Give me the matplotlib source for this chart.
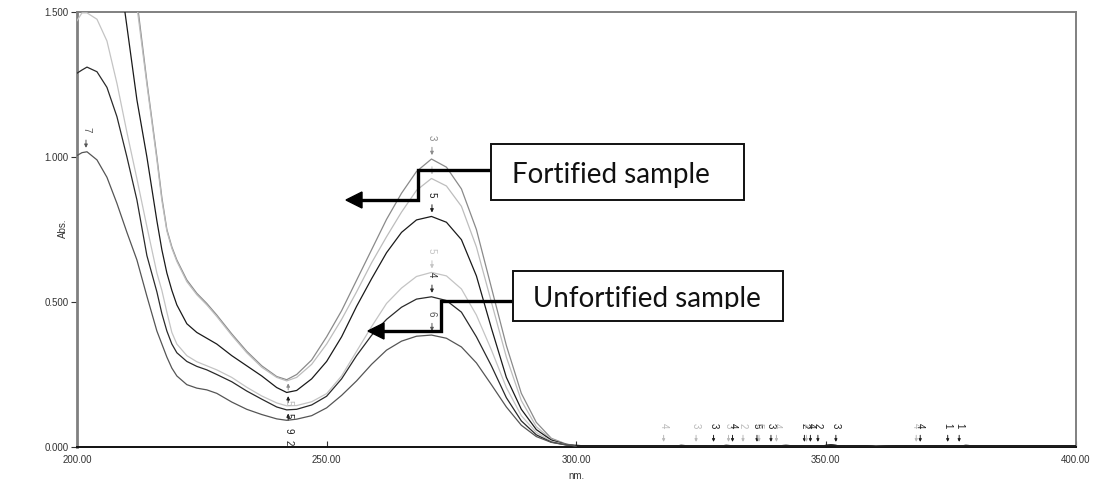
import numpy as np
import matplotlib.pyplot as plt
from matplotlib.patches import Rectangle, Polygon
from matplotlib.lines import Line2D

# wavelength grid of the recorded scans (nm)
nm = [200, 201, 202, 204, 206, 208, 210, 212, 214, 216, 217, 218, 219, 220,
      222, 224, 226, 228, 231, 234, 237, 240, 242, 244, 247, 250, 253, 256,
      259, 262, 265, 268, 271, 274, 277, 280, 283, 286, 289, 292, 295, 298, 300]

nan = np.nan
# absorbance of the six scans (values above 1.5 run off the plot)
scan_3 = [nan, nan, nan, nan, nan, nan, 1.85, 1.54, 1.26, 1.0,
          0.86, 0.75, 0.69, 0.645, 0.576, 0.53, 0.495, 0.455,
          0.39, 0.33, 0.28, 0.243, 0.232, 0.25, 0.30, 0.38,
          0.47, 0.575, 0.68, 0.785, 0.875, 0.95, 0.993, 0.965,
          0.89, 0.75, 0.55, 0.35, 0.185, 0.085, 0.03, 0.01, 0.005]
scan_4 = [nan, nan, nan, nan, nan, nan, 1.82, 1.52, 1.25, 0.99,
          0.85, 0.745, 0.685, 0.64, 0.57, 0.525, 0.49, 0.45,
          0.385, 0.325, 0.275, 0.24, 0.228, 0.24, 0.285, 0.355,
          0.44, 0.535, 0.635, 0.725, 0.81, 0.885, 0.926, 0.90,
          0.83, 0.69, 0.50, 0.31, 0.16, 0.07, 0.027, 0.009, 0.005]
scan_5 = [nan, nan, nan, nan, 1.95, 1.70, 1.45, 1.197, 1.0, 0.78,
          0.68, 0.60, 0.54, 0.49, 0.425, 0.395, 0.375, 0.355,
          0.315, 0.28, 0.245, 0.205, 0.188, 0.195, 0.235, 0.295,
          0.38, 0.485, 0.58, 0.67, 0.74, 0.783, 0.795, 0.775,
          0.715, 0.59, 0.41, 0.24, 0.13, 0.06, 0.024, 0.009, 0.005]
scan_2 = [1.47, 1.497, 1.497, 1.475, 1.40, 1.254, 1.085, 0.925, 0.76, 0.60,
          0.54, 0.465, 0.395, 0.355, 0.315, 0.294, 0.28, 0.266,
          0.24, 0.206, 0.176, 0.152, 0.142, 0.143, 0.156, 0.184,
          0.245, 0.33, 0.415, 0.495, 0.548, 0.588, 0.602, 0.59,
          0.545, 0.455, 0.335, 0.205, 0.108, 0.05, 0.02, 0.008, 0.004]
scan_1 = [1.289, 1.30, 1.31, 1.294, 1.24, 1.139, 1.0, 0.852, 0.66, 0.535,
          0.46, 0.40, 0.355, 0.325, 0.295, 0.278, 0.266, 0.25,
          0.225, 0.193, 0.165, 0.138, 0.128, 0.13, 0.145, 0.175,
          0.235, 0.315, 0.385, 0.44, 0.482, 0.51, 0.518, 0.505,
          0.465, 0.38, 0.28, 0.17, 0.09, 0.042, 0.017, 0.007, 0.004]
scan_0 = [1.005, 1.015, 1.018, 0.99, 0.93, 0.84, 0.74, 0.645, 0.52, 0.40,
          0.355, 0.31, 0.272, 0.245, 0.215, 0.203, 0.197, 0.185,
          0.155, 0.13, 0.112, 0.097, 0.092, 0.096, 0.108, 0.135,
          0.178, 0.228, 0.285, 0.334, 0.365, 0.382, 0.386, 0.375,
          0.345, 0.29, 0.215, 0.138, 0.075, 0.036, 0.016, 0.007, 0.004]

# flat baseline after 300 nm
tail_nm = [300, 303, 306, 309, 312, 315, 318, 321, 324, 327, 330, 333, 336,
           339, 342, 345, 348, 351, 354, 357, 360, 363, 366, 369, 372, 375,
           378, 381, 384, 387, 390, 393, 396, 400]
tail_abs = [0.005, 0.004, 0.003, 0.004, 0.003, 0.004, 0.003, 0.005, 0.004,
            0.003, 0.005, 0.004, 0.003, 0.004, 0.005, 0.004, 0.003, 0.006,
            0.003, 0.004, 0.002, 0.003, 0.004, 0.003, 0.004, 0.003, 0.005,
            0.004, 0.003, 0.004, 0.003, 0.004, 0.003, 0.004]

# peak-pick labels on the baseline
pick_nm = [317.5, 324.0, 327.5, 330.5, 331.3, 333.4, 336.2, 336.6, 339.0, 340.1,
           345.7, 346.1, 346.9, 348.4, 352.0, 368.1, 368.9, 374.4, 376.7]
pick_lbl = ['4', '3', '3', '3', '4', '2', '5', '5', '3', '4',
            '2', '2', '4', '2', '3', '4', '4', '1', '1']
pick_dark = [0, 0, 1, 0, 1, 0, 1, 0, 1, 0, 1, 0, 1, 1, 1, 0, 1, 1, 1]

LIGHT = '#b9b9b9'
DARK = '#1e1e1e'

scans = [
    (scan_3, '#8a8a8a', '3'),
    (scan_4, '#bdbdbd', ''),
    (scan_5, '#1a1a1a', '5'),
    (scan_2, '#c4c4c4', '5'),
    (scan_1, '#2a2a2a', '4'),
    (scan_0, '#555555', '6'),
]

W, H = 1094, 486
fig = plt.figure(figsize=(W / 100, H / 100), dpi=100)
ax = fig.add_axes([77 / W, 1 - 447 / H, 998.5 / W, 435 / H])


def fpos(x, y):
    return x / W, 1 - y / H


for vals, col, lbl in scans:
    ax.plot(nm, vals, color=col, lw=0.9, zorder=3)
    ax.plot(tail_nm, tail_abs, color=DARK, lw=0.9, zorder=3)

# peak markers at 271 nm
i_pk = nm.index(271)
pk_x = 271.1
for vals, col, lbl in scans:
    y = vals[i_pk]
    ax.annotate('', xy=(pk_x, y + 0.004), xytext=(pk_x, y + 0.05),
                arrowprops=dict(arrowstyle='-|>', color=col, lw=0.7,
                                mutation_scale=5), zorder=4)
    if lbl:
        ax.text(pk_x, y + 0.075, lbl, rotation=270, ha='center', va='center',
                fontsize=7, color=col, family='Liberation Sans', zorder=4)

# valley markers at 242 nm
i_mn = nm.index(242)
mn_x = 242.3
for vals, col, lbl in scans[::2]:
    y = vals[i_mn]
    ax.annotate('', xy=(mn_x, y - 0.003), xytext=(mn_x, y - 0.045),
                arrowprops=dict(arrowstyle='-|>', color=col, lw=0.7,
                                mutation_scale=5), zorder=4)
for y, lbl, col in [(0.153, '5', LIGHT), (0.108, '5', DARK),
                    (0.055, '9', DARK), (0.015, '2', DARK)]:
    ax.text(mn_x, y, lbl, rotation=270, ha='center', va='center',
            fontsize=7, color=col, family='Liberation Sans', zorder=4)

# maximum of the lowest scan near 202 nm
y7 = scan_0[nm.index(202)]
ax.annotate('', xy=(201.8, y7 + 0.004), xytext=(201.8, y7 + 0.05),
            arrowprops=dict(arrowstyle='-|>', color='#555555', lw=0.7,
                            mutation_scale=5), zorder=4)
ax.text(201.8, y7 + 0.075, '7', rotation=270, ha='center', va='center',
        fontsize=7, color='#555555', family='Liberation Sans')

# baseline picks
for x, lbl, dk in zip(pick_nm, pick_lbl, pick_dark):
    col = DARK if dk else LIGHT
    ax.annotate('', xy=(x, 0.008), xytext=(x, 0.05),
                arrowprops=dict(arrowstyle='-|>', color=col, lw=0.7,
                                mutation_scale=4), zorder=4)
    ax.text(x, 0.075, lbl, rotation=270, ha='center', va='center',
            fontsize=7, color=col, family='Liberation Sans')

ax.set_xlim(200, 400)
ax.set_ylim(0, 1.5)
xt = [200, 250, 300, 350, 400]
yt = [0, 0.5, 1.0, 1.5]
ax.set_xticks(xt)
ax.set_xticklabels([f'{v:.2f}' for v in xt])
ax.set_yticks(yt)
ax.set_yticklabels([f'{v:.3f}' for v in yt])
ax.tick_params(axis='x', direction='in', length=4, pad=6, labelsize=7,
               labelcolor='#333333', color='#333333')
ax.tick_params(axis='y', direction='out', length=4, pad=2, labelsize=7,
               labelcolor='#333333', color='#333333')
for t in ax.get_xticklabels() + ax.get_yticklabels():
    t.set_family('Liberation Sans')

for side in ['left', 'top', 'right']:
    ax.spines[side].set_color('#808080')
ax.spines['left'].set_linewidth(2)
ax.spines['top'].set_linewidth(1.4)
ax.spines['right'].set_linewidth(1.4)
ax.spines['bottom'].set_color('#111111')
ax.spines['bottom'].set_linewidth(1.4)

fig.text(*fpos(63, 228), 'Abs.', rotation=90, ha='center', va='center',
         fontsize=7, color='#333333', family='Liberation Sans')
fig.text(*fpos(576, 476), 'nm.', ha='center', va='center',
         fontsize=7, color='#333333', family='Liberation Sans')


# callout boxes with stepped arrows
def callout(box, text, text_xy, clip_y, path, tip, head_len=16, head_h=8):
    x0, y0, x1, y1 = box
    bx, by = fpos(x0, y1)
    rect = Rectangle((bx, by), (x1 - x0) / W, (y1 - y0) / H,
                     transform=fig.transFigure, facecolor='white',
                     edgecolor='#111111', lw=1.4, zorder=5)
    fig.patches.append(rect)
    t = fig.text(*fpos(*text_xy), text, fontsize=20, family='Lato',
                 color='#111111', ha='left', va='baseline', zorder=6)
    cx, cy = fpos(x0, clip_y)
    clip = Rectangle((cx, cy), (x1 - x0) / W, (clip_y - y0) / H,
                     transform=fig.transFigure, facecolor='none',
                     edgecolor='none')
    t.set_clip_path(clip)
    xs = [fpos(px, py)[0] for px, py in path]
    ys = [fpos(px, py)[1] for px, py in path]
    fig.lines.append(Line2D(xs, ys, transform=fig.transFigure,
                            color='black', lw=2.4, zorder=5,
                            solid_joinstyle='miter'))
    tx, ty = tip
    head = Polygon([fpos(tx, ty), fpos(tx + head_len, ty - head_h),
                    fpos(tx + head_len, ty + head_h)], closed=True,
                   transform=fig.transFigure, color='black', zorder=5)
    fig.patches.append(head)


callout((491, 144, 744, 200), 'Fortified sample', (512, 183), 200,
        [(491, 170), (418, 170), (418, 200), (360, 200)], (346, 200))
callout((513, 271, 783, 321), 'Unfortified sample', (533, 307), 308.5,
        [(513, 301), (441, 301), (441, 331), (382, 331)], (368, 331))

fig.savefig('out.png', dpi=100)
